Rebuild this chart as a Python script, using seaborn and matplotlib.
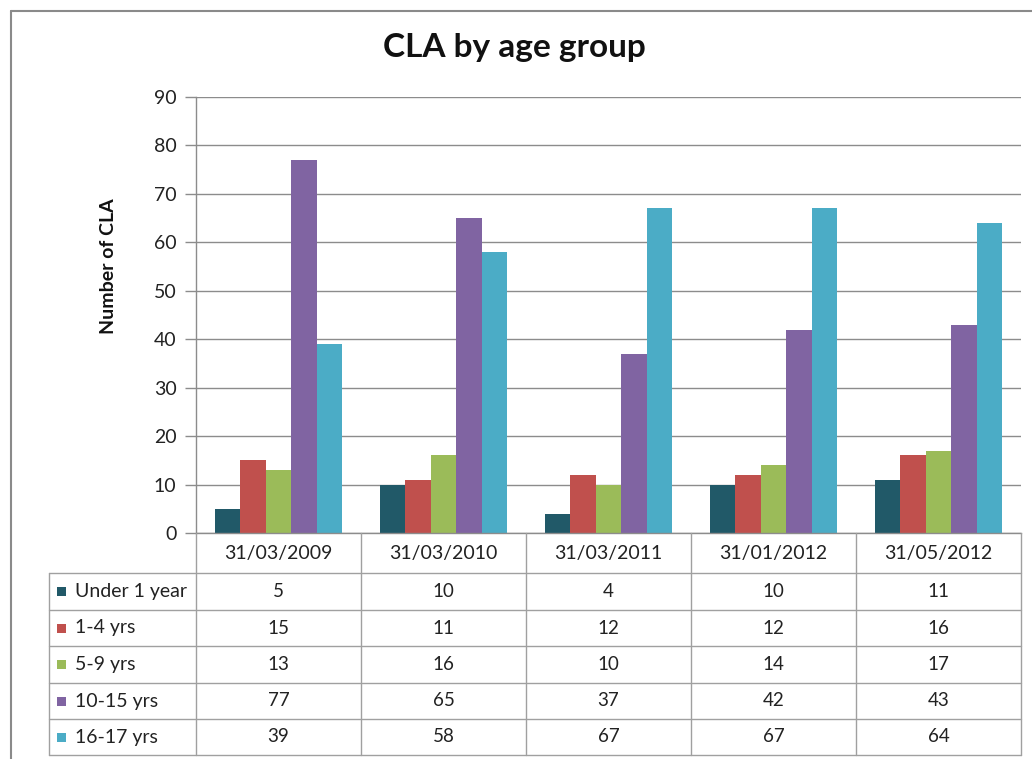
import matplotlib
matplotlib.use("Agg")
import matplotlib.pyplot as plt
import matplotlib.transforms as mtransforms
from matplotlib.lines import Line2D
from matplotlib.patches import Rectangle
import seaborn as sns
import pandas as pd

dates = ["31/03/2009", "31/03/2010", "31/03/2011", "31/01/2012", "31/05/2012"]
groups = ["Under 1 year", "1-4 yrs", "5-9 yrs", "10-15 yrs", "16-17 yrs"]
under1 = [5, 10, 4, 10, 11]
yrs1_4 = [15, 11, 12, 12, 16]
yrs5_9 = [13, 16, 10, 14, 17]
yrs10_15 = [77, 65, 37, 42, 43]
yrs16_17 = [39, 58, 67, 67, 64]
series = [under1, yrs1_4, yrs5_9, yrs10_15, yrs16_17]
colors = ["#215968", "#C0504D", "#9BBB59", "#8064A2", "#4BACC6"]
yticks = [0, 10, 20, 30, 40, 50, 60, 70, 80, 90]

rows = []
for g, vals in zip(groups, series):
    for d, v in zip(dates, vals):
        rows.append({"date": d, "group": g, "value": v})
df = pd.DataFrame(rows)

W, H = 1032, 759
sns.set_theme(style="white")
plt.rcParams["font.family"] = ["Lato", "DejaVu Sans"]
fig = plt.figure(figsize=(W / 100, H / 100), dpi=100)
fig.patch.set_facecolor("white")

def fx(px):
    return px / W

def fy(py):
    return 1 - py / H

ax_left, ax_right, ax_top, ax_bot = 196, 1021, 97, 533
ax = fig.add_axes([fx(ax_left), fy(ax_bot), fx(ax_right - ax_left), (ax_bot - ax_top) / H])

sns.barplot(data=df, x="date", y="value", hue="group", order=dates, hue_order=groups,
            palette=colors, saturation=1, width=0.77, linewidth=0, legend=False, ax=ax)

gray = "#8c8c8c"
ax.set_ylim(0, 90)
ax.set_xlim(-0.5, len(dates) - 0.5)
ax.set_yticks(yticks)
ax.set_yticklabels([str(t) for t in yticks], fontsize=14, color="#222222")
ax.yaxis.grid(True, color=gray, linewidth=1)
ax.set_axisbelow(True)
ax.tick_params(axis="y", which="both", left=True, length=8, width=1, color=gray, pad=6)
ax.tick_params(axis="x", bottom=False, labelbottom=False)
ax.set_xlabel("")
ax.set_ylabel("")
for s in ["top", "right"]:
    ax.spines[s].set_visible(False)
ax.spines["left"].set_color(gray)
ax.spines["bottom"].set_color(gray)
ax.spines["left"].set_linewidth(1)
ax.spines["bottom"].set_linewidth(1)

fig.text(fx(109), fy(266), "Number of CLA", rotation=90, fontsize=14, fontweight="bold",
         ha="center", va="center", color="#111111")

fig.text(fx(514), fy(48), "CLA by age group", fontsize=24, fontweight="bold",
         ha="center", va="center", color="#111111")

# table beneath the axis
tr = mtransforms.blended_transform_factory(ax.transData, fig.transFigure)
line_c = "#a0a0a0"
row_edges = [533, 573, 610, 646, 683, 719, 755]
tbl_left = 49
for i in range(len(dates) + 1):
    xb = i - 0.5
    fig.add_artist(Line2D([xb, xb], [fy(533), fy(755)], transform=tr, color=line_c, lw=1))
fig.add_artist(Line2D([fx(tbl_left), fx(tbl_left)], [fy(573), fy(755)], transform=fig.transFigure, color=line_c, lw=1))
for k, yb in enumerate(row_edges):
    if k == 0:
        continue
    fig.add_artist(Line2D([fx(tbl_left), fx(ax_right)], [fy(yb), fy(yb)], transform=fig.transFigure, color=line_c, lw=1))

for i, d in enumerate(dates):
    fig.text(i, fy((row_edges[0] + row_edges[1]) / 2), d, transform=tr, ha="center", va="center",
             fontsize=14, color="#222222")

for r, (g, vals, c) in enumerate(zip(groups, series, colors)):
    yc = fy((row_edges[r + 1] + row_edges[r + 2]) / 2)
    fig.add_artist(Rectangle((fx(57), yc - 4.5 / H), 9 / W, 9 / H, transform=fig.transFigure,
                             facecolor=c, edgecolor="none"))
    fig.text(fx(75), yc, g, ha="left", va="center", fontsize=14, color="#222222")
    for i, v in enumerate(vals):
        fig.text(i, yc, str(v), transform=tr, ha="center", va="center", fontsize=13.5, color="#222222")

# outer chart frame (only top and left edges are inside the picture)
fig.add_artist(Line2D([fx(11), fx(11)], [fy(11), 0], transform=fig.transFigure, color="#8a8a8a", lw=1.5))
fig.add_artist(Line2D([fx(11), 1], [fy(11), fy(11)], transform=fig.transFigure, color="#8a8a8a", lw=1.5))

fig.savefig("out.png", dpi=100, facecolor="white")
